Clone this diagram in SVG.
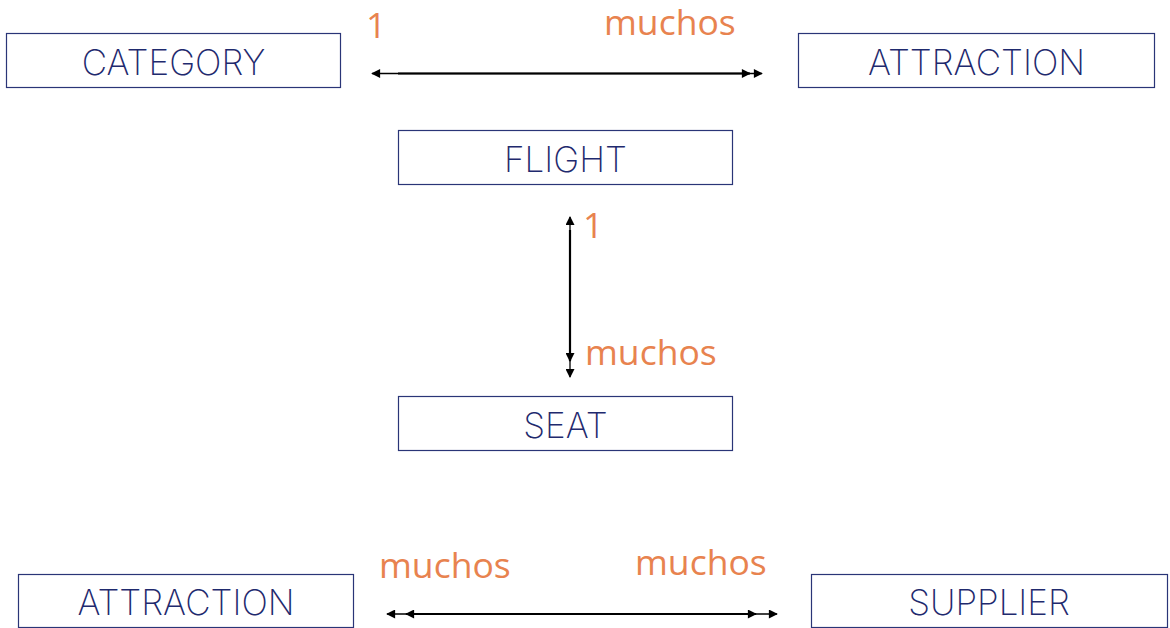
<svg xmlns="http://www.w3.org/2000/svg" width="1170" height="628" viewBox="0 0 1170 628">
<style>
.box{fill:#fff;stroke:#2a3577;stroke-width:1.2}
.name{font-family:Inter,"Liberation Sans",sans-serif;font-weight:250;font-size:35px;fill:#1f2a6e;text-anchor:middle}
.card{font-family:"Open Sans","Liberation Sans",sans-serif;font-weight:400;font-size:35.5px;fill:#e8834f}
.thin{stroke:#000;stroke-width:1.3;fill:none}
.thick{stroke:#000;stroke-width:2.2;fill:none}
</style>
<defs>
<marker id="ah" viewBox="0 0 10 10" refX="9" refY="5" markerWidth="11" markerHeight="9" markerUnits="userSpaceOnUse" orient="auto-start-reverse">
<path d="M0,0 L10,5 L0,10 z" fill="#000"/>
</marker>
</defs>
<rect width="1170" height="628" fill="#fff"/>
<g id="category"><rect class="box" x="6.5" y="33.5" width="334" height="54"/><text class="name" x="173.5" y="75">CATEGORY</text></g>
<g id="attraction-top"><rect class="box" x="798.5" y="33.5" width="356" height="54"/><text class="name" x="976.5" y="75">ATTRACTION</text></g>
<g id="flight"><rect class="box" x="398.5" y="130.5" width="334" height="54"/><text class="name" x="565.5" y="172">FLIGHT</text></g>
<g id="seat"><rect class="box" x="398.5" y="396.5" width="334" height="54"/><text class="name" x="565.5" y="438">SEAT</text></g>
<g id="attraction-bottom"><rect class="box" x="18.5" y="574.5" width="335" height="53"/><text class="name" x="186" y="615">ATTRACTION</text></g>
<g id="supplier"><rect class="box" x="811.5" y="574.5" width="356" height="53"/><text class="name" x="989" y="615">SUPPLIER</text></g>
<g id="connectors">
<line class="thin" x1="372" y1="73.5" x2="762" y2="73.5" marker-start="url(#ah)" marker-end="url(#ah)"/>
<line class="thick" x1="398" y1="73.5" x2="750" y2="73.5" marker-end="url(#ah)"/>
<line class="thin" x1="570" y1="217" x2="570" y2="377" marker-start="url(#ah)" marker-end="url(#ah)"/>
<line class="thick" x1="570" y1="230" x2="570" y2="361" marker-end="url(#ah)"/>
<line class="thin" x1="387" y1="614" x2="777" y2="614" marker-start="url(#ah)" marker-end="url(#ah)"/>
<line class="thick" x1="755" y1="614" x2="406" y2="614" marker-end="url(#ah)"/>
<line class="thick" x1="408" y1="614" x2="756" y2="614" marker-end="url(#ah)"/>
</g>
<g id="labels">
<text class="card" x="366" y="38">1</text>
<text class="card" x="604" y="35">muchos</text>
<text class="card" x="583" y="238">1</text>
<text class="card" x="585" y="365">muchos</text>
<text class="card" x="379" y="578">muchos</text>
<text class="card" x="635" y="575">muchos</text>
</g>
</svg>
